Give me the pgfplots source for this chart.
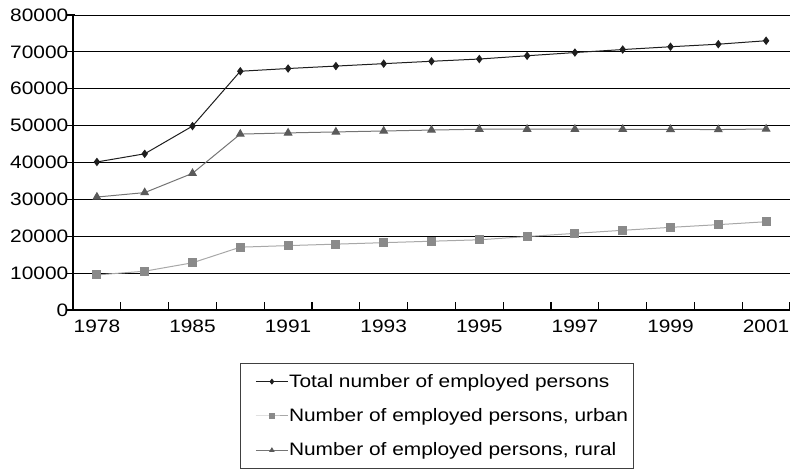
\documentclass[border=0pt]{standalone}
\usepackage{fontspec}
\setmainfont{Liberation Sans}[FakeStretch=1.16]
\usepackage{pgfplots}
\pgfplotsset{compat=1.18}
\newcommand\tf{\fontsize{13.5}{16}\selectfont}
\newcommand\tl[1]{\textnormal{\tf #1}}
\definecolor{totc}{HTML}{1E1E1E}
\definecolor{urbline}{HTML}{A8A8A8}
\definecolor{urbmark}{HTML}{8A8A8A}
\definecolor{rurline}{HTML}{747474}
\definecolor{rurmark}{HTML}{5A5A5A}
\pgfplotsset{mylegimg/.style={legend image code/.code={\path (0pt,0pt); \draw[##1, mark repeat=2, mark phase=2, mark size=1.7pt] plot coordinates {(7.5pt,0pt) (19.5pt,0pt) (31.5pt,0pt)};}}}
\begin{document}
\begin{tikzpicture}
\useasboundingbox (-54.75pt,-119.25pt) rectangle (537.75pt,232.5pt);
\begin{axis}[
  at={(0,0)}, anchor=south west,
  scale only axis, width=537.75pt, height=221.25pt,
  xmin=-0.5, xmax=14.5, ymin=0, ymax=80000,
  axis x line*=bottom, axis y line*=left,
  axis line style={-, black, line width=0.8pt},
  xtick={-0.5,0.5,1.5,2.5,3.5,4.5,5.5,6.5,7.5,8.5,9.5,10.5,11.5,12.5,13.5,14.5},
  xticklabels={\tl{1978},{},\tl{1985},{},\tl{1991},{},\tl{1993},{},\tl{1995},{},\tl{1997},{},\tl{1999},{},\tl{2001},{}},
  xticklabel style={xshift=17.925pt, yshift=-4pt},
  ytick={0,10000,...,80000},
  scaled y ticks=false,
  yticklabel={\tl{\pgfmathprintnumber[fixed,1000 sep={},assume math mode=true]{\tick}}},
  /pgf/number format/assume math mode=true,
  tick label style={font=\tf},
  major tick length=6pt,
  tick style={black, line width=0.8pt},
  ytick style={xshift=-4.5pt},
  ymajorgrids, major grid style={black, line width=0.75pt},
  legend style={at={(0.2329,-0.1797)}, anchor=north west, draw=black!75, line width=0.6pt,
    font=\tf, row sep=10.5pt, inner xsep=3.75pt, inner ysep=6pt, nodes={inner xsep=0.5pt}},
  legend cell align=left,
  mylegimg,
]
\addplot[color=totc, line width=0.75pt, mark=diamond*, mark size=2.6pt, mark options={fill=totc, draw=totc}]
  coordinates {(0,40152) (1,42361) (2,49873) (3,64749) (4,65491) (5,66152) (6,66808) (7,67455) (8,68065) (9,68950) (10,69820) (11,70637) (12,71394) (13,72085) (14,73025)};
\addlegendentry{Total number of employed persons}
\addplot[color=urbline, line width=0.75pt, mark=square*, mark size=3pt, mark options={fill=urbmark, draw=urbmark}]
  coordinates {(0,9514) (1,10525) (2,12808) (3,17041) (4,17465) (5,17861) (6,18262) (7,18653) (8,19040) (9,19922) (10,20781) (11,21616) (12,22412) (13,23151) (14,23940)};
\addlegendentry{Number of employed persons, urban}
\addplot[color=rurline, line width=0.75pt, mark=triangle*, mark size=3.2pt, mark options={fill=rurmark, draw=rurmark}]
  coordinates {(0,30638) (1,31836) (2,37065) (3,47708) (4,48026) (5,48291) (6,48546) (7,48802) (8,49025) (9,49028) (10,49039) (11,49021) (12,48982) (13,48934) (14,49085)};
\addlegendentry{Number of employed persons, rural}
\end{axis}
\end{tikzpicture}
\end{document}
